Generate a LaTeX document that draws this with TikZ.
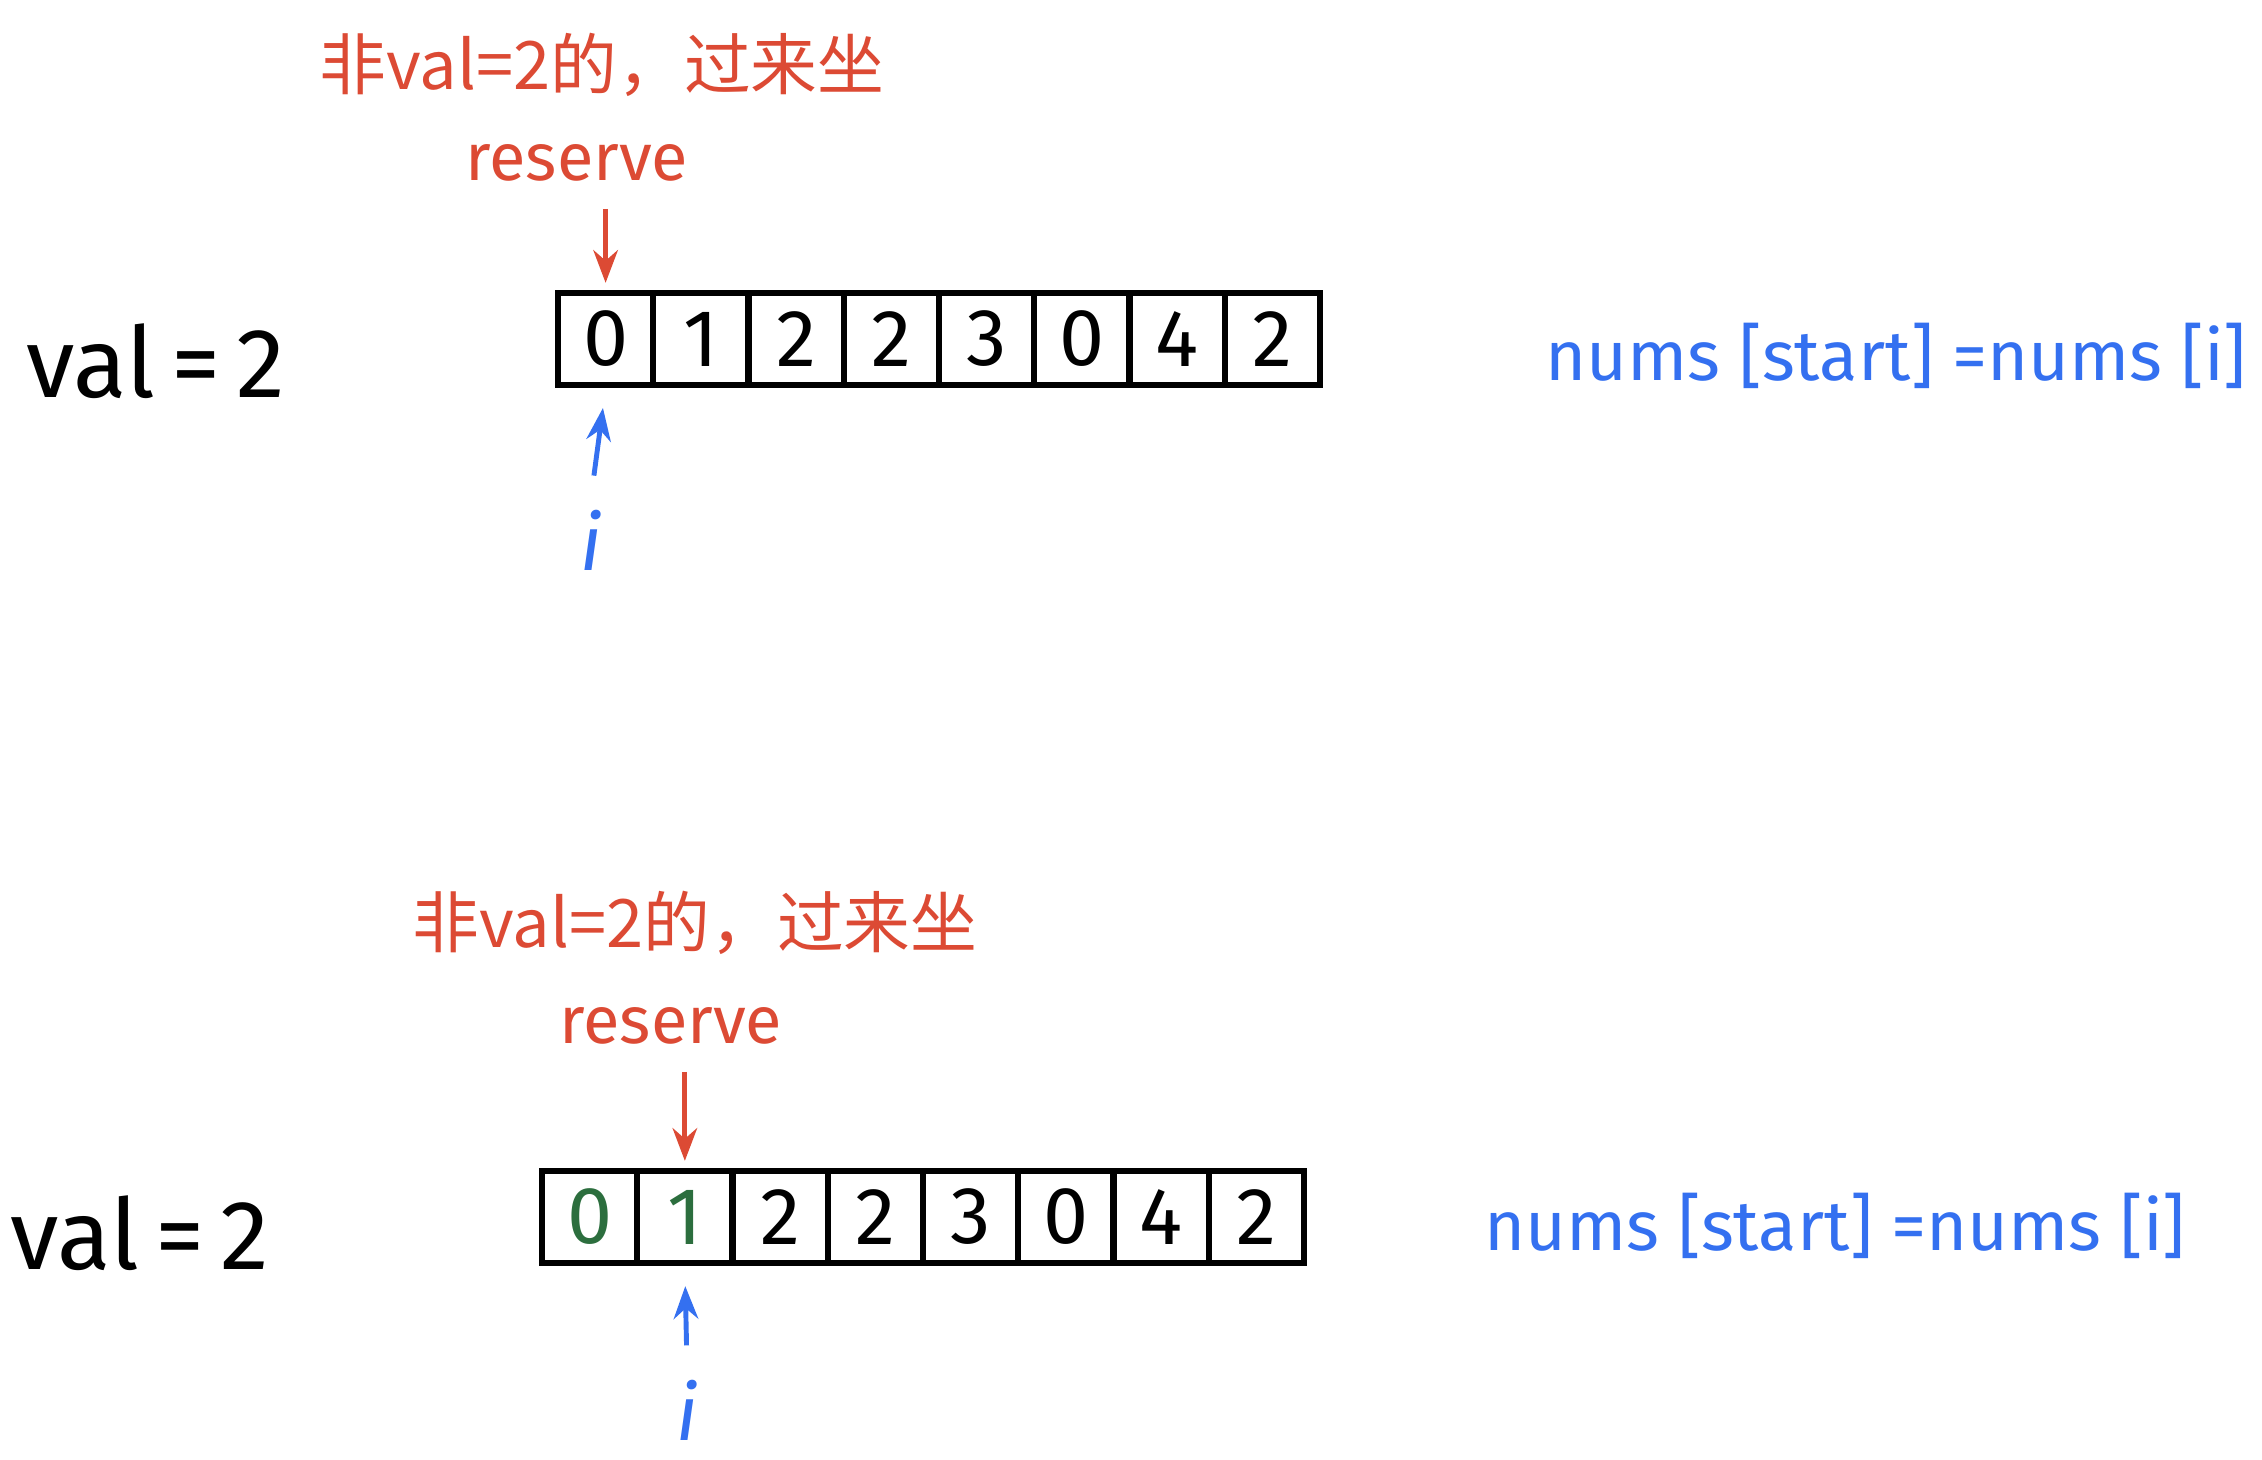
\documentclass[tikz,border=0pt]{standalone}
\usepackage{fontspec}
\setmainfont{Fira Sans}
\newfontfamily\cjk{Noto Sans CJK SC}
\usetikzlibrary{positioning,arrows.meta}
\definecolor{penred}{RGB}{220,74,52}
\definecolor{penblue}{RGB}{52,112,240}
\definecolor{pengreen}{RGB}{44,110,62}

\begin{document}
\begin{tikzpicture}[x=0.1mm,y=-0.1mm,>=Stealth,
  cell/.style={draw,line width=1.8pt,minimum width=9.525mm,minimum height=9.2mm,
    inner sep=0pt,font=\fontsize{23}{23}\selectfont},
  valtxt/.style={font=\fontsize{28}{28}\selectfont},
  note/.style={text=penred,font=\cjk\fontsize{19}{19}\selectfont},
  resv/.style={text=penred,font=\fontsize{19}{19}\selectfont},
  code/.style={text=penblue,font=\fontsize{20}{20}\selectfont},
  idx/.style={text=penblue,font=\itshape\fontsize{22}{22}\selectfont},
  redarr/.style={->,penred,line width=1.4pt},
  bluearr/.style={->,penblue,line width=1.4pt}]
  \useasboundingbox (0,0) rectangle (2262,1460);
  % top state: start = 0, i = 0
  \node[valtxt] (val1) at (156,361) {val\,=\,2};
  \foreach \d [count=\k from 0] in {0,1,2,2,3,0,4,2}
    \node[cell] (t\k) at (558+95.25*\k+47.6,339) {\d};
  \node[note] (note1) at (602,65) {非val=2的，过来坐};
  \node[resv] (res1) at (577,163) {reserve};
  \draw[redarr,shorten <=1.5mm,shorten >=0.7mm] (t0.north |- res1.south) -- (t0.north);
  \node[idx] (i1) at (591,540) {i};
  \draw[bluearr,shorten <=2.2mm,shorten >=2mm] (i1.north) -- (t0.south);
  \node[code] (code1) at (1896,356) {nums [start] =nums [i]};
  % bottom state: 0 and 1 kept, start = 1, i = 1
  \node[valtxt] (val2) at (140,1233) {val\,=\,2};
  \foreach \d/\c [count=\k from 0] in {0/pengreen,1/pengreen,2/black,2/black,
      3/black,0/black,4/black,2/black}
    \node[cell,text=\c] (b\k) at (542+95.25*\k+47.6,1217) {\d};
  \node[note] (note2) at (695,923) {非val=2的，过来坐};
  \node[resv] (res2) at (671,1026) {reserve};
  \draw[redarr,shorten <=1.5mm,shorten >=0.7mm] (b1.north |- res2.south) -- (b1.north);
  \node[idx] (i2) at (687,1410) {i};
  \draw[bluearr,shorten <=2.2mm,shorten >=2mm] (i2.north) -- (b1.south);
  \node[code] (code2) at (1835,1226) {nums [start] =nums [i]};
\end{tikzpicture}
\end{document}
